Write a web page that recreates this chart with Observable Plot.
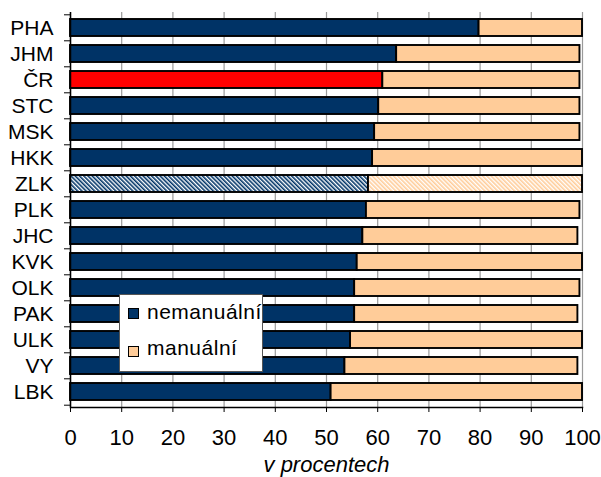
<!DOCTYPE html>
<html><head><meta charset="utf-8">
<script src="https://cdn.jsdelivr.net/npm/d3@7"></script>
<script src="https://cdn.jsdelivr.net/npm/@observablehq/plot@0.6"></script>
<style>
body{margin:0;background:#fff;}
#wrap{position:relative;width:601px;height:477px;font-family:"Liberation Sans",Arial,sans-serif;}
.legend{position:absolute;left:119px;top:294px;width:144px;height:78px;border:1px solid #555;background:#fff;box-sizing:border-box;}
.sw{position:absolute;left:8px;width:9px;height:9px;border:1px solid #000;}
.lt{position:absolute;left:27px;font-size:21px;line-height:21px;letter-spacing:0.5px;color:#000;white-space:nowrap;}
</style></head>
<body><div id="wrap"></div>
<script>
const categories = ["PHA","JHM","ČR","STC","MSK","HKK","ZLK","PLK","JHC","KVK","OLK","PAK","ULK","VY","LBK"];
const nemanualni = [79.8,63.7,61.0,60.2,59.4,59.0,58.2,57.8,57.1,56.0,55.5,55.5,54.7,53.6,50.9];
const manualni   = [20.2,35.8,38.5,39.3,40.1,41.0,41.8,41.7,42.0,44.0,44.0,43.6,45.3,45.5,49.1];
const seriesNames = ["nemanuální","manuální"];
const seriesColors = ["#003366","#FFCC99"];
const highlightColor = "#FF0000";
const xTicks = [0,10,20,30,40,50,60,70,80,90,100];
const xLabel = "v procentech";

const rows = categories.flatMap((c,i)=>[
  {cat:c, series:seriesNames[0], value:nemanualni[i],
   fill: c==="ČR" ? highlightColor : c==="ZLK" ? "url(#hatchN)" : seriesColors[0]},
  {cat:c, series:seriesNames[1], value:manualni[i],
   fill: c==="ZLK" ? "url(#hatchM)" : seriesColors[1]}
]);

const W=601, H=477, mt=12, mb=70, ml=70, mr=19;
const pIn=0.33, pOut=0.15;
const step=(H-mt-mb)/(categories.length - pIn + 2*pOut);

const plot = Plot.plot({
  width: W, height: H,
  marginLeft: ml, marginRight: mr, marginTop: mt, marginBottom: mb,
  style: {fontFamily: "'Liberation Sans', Arial, sans-serif", background: "#fff", color: "#000", overflow: "visible"},
  x: {domain: [0,100]},
  y: {domain: categories, paddingInner: pIn, paddingOuter: pOut},
  color: {type: "identity"},
  marks: [
    Plot.gridX(xTicks, {stroke: "#9a9a9a", strokeOpacity: 1, strokeWidth: 1.2}),
    Plot.barX(rows, {x: "value", y: "cat", fill: "fill", stroke: "#000", strokeWidth: 1.9, order: null}),
    Plot.ruleX([0], {stroke: "#000", strokeWidth: 1.5}),
    Plot.frame({anchor: "bottom", stroke: "#000", strokeWidth: 1.5}),
    Plot.axisX(xTicks, {tickSize: 5, tickPadding: 17, fontSize: 22, stroke: "#000",
      label: xLabel, labelAnchor: "center", labelArrow: "none", labelOffset: 64}),
    Plot.axisY(categories, {tickSize: 0, tickPadding: 17, fontSize: 21, label: null}),
    Plot.axisY(categories, {tickSize: 6, text: null, dy: -step/2, label: null}),
    Plot.axisY([categories[categories.length-1]], {tickSize: 6, text: null, dy: step/2, label: null})
  ]
});

const svg = d3.select(plot);
svg.selectAll("g[aria-label='x-axis label'] text").style("font-style","italic").style("font-size","22px");
const defs = svg.insert("defs", ":first-child");
function hatch(id, color){
  const p = defs.append("pattern").attr("id", id).attr("patternUnits","userSpaceOnUse")
    .attr("width",3).attr("height",3).attr("patternTransform","rotate(-45)");
  p.append("rect").attr("width",3).attr("height",3).attr("fill","#fff");
  p.append("rect").attr("width",1.6).attr("height",3).attr("fill",color);
}
hatch("hatchN", seriesColors[0]);
hatch("hatchM", seriesColors[1]);

const wrap = document.getElementById("wrap");
wrap.appendChild(plot);
const lg = document.createElement("div");
lg.className = "legend";
seriesNames.forEach((n,i)=>{
  const sw = document.createElement("div");
  sw.className="sw"; sw.style.top=(13+i*38)+"px"; sw.style.background=seriesColors[i];
  const t = document.createElement("div");
  t.className="lt"; t.style.top=(6+i*36)+"px"; t.textContent=n;
  lg.appendChild(sw); lg.appendChild(t);
});
wrap.appendChild(lg);
</script>
</body></html>
